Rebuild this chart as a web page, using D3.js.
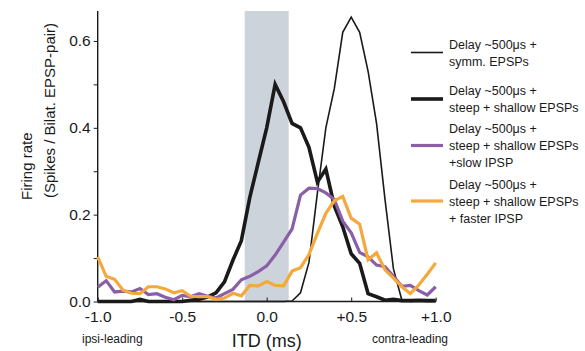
<!DOCTYPE html>
<html>
<head>
<meta charset="utf-8">
<script src="https://cdn.jsdelivr.net/npm/d3@7"></script>
<style>
  body { margin: 0; background: #fff; }
  svg { font-family: "Liberation Sans", Arial, sans-serif; }
</style>
</head>
<body>
<div id="chart"></div>
<script>
// ITD sample points, -1.0 .. +1.0 ms in 0.05 steps
const itd = d3.range(41).map(i => +(-1 + i * 0.05).toFixed(2));

const symmEPSP = [0, 0, 0, 0, 0, 0, 0, 0, 0, 0, 0, 0, 0, 0, 0, 0, 0, 0, 0, 0,
  0, 0, 0, 0.001, 0.02, 0.09, 0.25, 0.40, 0.49, 0.62, 0.655, 0.62, 0.53, 0.41, 0.235, 0.075,
  0.003, 0, 0, 0, 0];
const steepShallow = [0, 0, 0, 0, 0, 0.005, 0, 0, 0, 0, 0, 0.003, 0.005, 0.01, 0.02, 0.045,
  0.095, 0.14, 0.24, 0.32, 0.40, 0.50, 0.46, 0.41, 0.40, 0.355, 0.275, 0.305, 0.22, 0.172, 0.11,
  0.088, 0.018, 0.011, 0.003, 0.005, 0.002, 0.002, 0.003, 0.002, 0.002];
const slowIPSP = [0.033, 0.048, 0.022, 0.024, 0.022, 0.03, 0.016, 0.018, 0.01, 0.004, 0.014,
  0.011, 0.018, 0.012, 0.008, 0.018, 0.028, 0.05, 0.058, 0.069, 0.082, 0.107, 0.137, 0.167,
  0.245, 0.261, 0.26, 0.25, 0.235, 0.185, 0.158, 0.113, 0.103, 0.084, 0.08, 0.058, 0.035,
  0.037, 0.025, 0.015, 0.034];
const fasterIPSP = [0.103, 0.058, 0.051, 0.026, 0.019, 0.018, 0.034, 0.034, 0.029, 0.02, 0.025,
  0.012, 0.011, 0.011, 0.005, 0.008, 0.019, 0.013, 0.037, 0.036, 0.046, 0.037, 0.036, 0.07,
  0.078, 0.108, 0.157, 0.203, 0.232, 0.242, 0.192, 0.178, 0.096, 0.112, 0.073, 0.054, 0.034,
  0.018, 0.038, 0.063, 0.089];

const xTicks = [-1, -0.5, 0, 0.5, 1];
const xTickLabels = ['-1.0', '-0.5', '0.0', '+0.5', '+1.0'];
const yTicks = [0, 0.1, 0.2, 0.3, 0.4, 0.5, 0.6];
const yTickLabels = ['0.0', '', '0.2', '', '0.4', '', '0.6'];
const shadeRange = [-0.13, 0.13];

const series = [
  { name: ['Delay ~500\u03bcs +', 'symm. EPSPs'], values: symmEPSP, color: '#1a1a1a', width: 1.6, ly: 52.5 },
  { name: ['Delay ~500\u03bcs +', 'steep + shallow EPSPs'], values: steepShallow, color: '#1a1a1a', width: 3.6, ly: 99 },
  { name: ['Delay ~500\u03bcs +', 'steep + shallow EPSPs', '+slow IPSP'], values: slowIPSP, color: '#8a5fa8', width: 3.2, ly: 145.5 },
  { name: ['Delay ~500\u03bcs +', 'steep + shallow EPSPs', '+ faster IPSP'], values: fasterIPSP, color: '#f5a83c', width: 3.2, ly: 201 }
];

const width = 585, height = 351;

const svg = d3.select('#chart').append('svg')
  .attr('width', width)
  .attr('height', height);

const x = d3.scaleLinear().domain([-1, 1]).range([97.7, 435.7]);
const y = d3.scaleLinear().domain([0, 0.669]).range([301.5, 11]);

// shaded window
svg.append('rect')
  .attr('x', x(shadeRange[0]))
  .attr('y', y(0.669))
  .attr('width', x(shadeRange[1]) - x(shadeRange[0]))
  .attr('height', y(0) - y(0.669))
  .attr('fill', '#cdd3da');

// y axis
const yAxis = svg.append('g')
  .attr('transform', `translate(${x(-1)},0)`)
  .call(d3.axisLeft(y).tickValues(yTicks).tickFormat((d, i) => yTickLabels[i]).tickSize(4).tickPadding(3));
yAxis.select('.domain').attr('d', `M0,${y(0)}V${y(0.669)}`).attr('stroke', '#1a1a1a').attr('stroke-width', 1.4);
yAxis.selectAll('.tick line').attr('stroke', '#1a1a1a');
yAxis.selectAll('.tick text').attr('font-size', 15.5).attr('fill', '#1a1a1a').attr('font-family', null);

// x axis
const xAxis = svg.append('g')
  .attr('transform', `translate(0,${y(0)})`)
  .call(d3.axisBottom(x).tickValues(xTicks).tickFormat((d, i) => xTickLabels[i]).tickSize(-4).tickPadding(9));
xAxis.select('.domain').attr('d', `M${x(-1)},0H${x(1)}`).attr('stroke', '#1a1a1a').attr('stroke-width', 1.4);
xAxis.selectAll('.tick line').attr('stroke', '#1a1a1a');
xAxis.selectAll('.tick text').attr('font-size', 15.5).attr('fill', '#1a1a1a').attr('font-family', null);

// curves
const line = d3.line()
  .x((d, i) => x(itd[i]))
  .y(d => y(d));

svg.selectAll('.curve')
  .data(series)
  .enter().append('path')
  .attr('class', 'curve')
  .attr('fill', 'none')
  .attr('stroke', d => d.color)
  .attr('stroke-width', d => d.width)
  .attr('stroke-linejoin', 'miter')
  .attr('d', d => line(d.values));

// legend
const legend = svg.selectAll('.legend')
  .data(series)
  .enter().append('g')
  .attr('class', 'legend');

legend.append('line')
  .attr('x1', 411).attr('x2', 443)
  .attr('y1', d => d.ly).attr('y2', d => d.ly)
  .attr('stroke', d => d.color)
  .attr('stroke-width', d => d.width);

legend.append('text')
  .attr('x', 449)
  .attr('font-size', 12.5)
  .attr('fill', '#1a1a1a')
  .selectAll('tspan')
  .data(d => d.name.map((t, i) => ({ t, y: d.ly + 4.5 + (i - (d.name.length - 1) / 2) * 17 })))
  .enter().append('tspan')
  .attr('x', 449)
  .attr('y', d => d.y)
  .text(d => d.t);

// axis titles
svg.append('text')
  .attr('x', x(0))
  .attr('y', 347)
  .attr('text-anchor', 'middle')
  .attr('font-size', 18)
  .attr('fill', '#1a1a1a')
  .text('ITD (ms)');

svg.append('text')
  .attr('x', 82)
  .attr('y', 343)
  .attr('font-size', 12)
  .attr('fill', '#1a1a1a')
  .text('ipsi-leading');

svg.append('text')
  .attr('x', 448)
  .attr('y', 343)
  .attr('text-anchor', 'end')
  .attr('font-size', 12)
  .attr('fill', '#1a1a1a')
  .text('contra-leading');

svg.append('text')
  .attr('transform', 'translate(32,200) rotate(-90)')
  .attr('font-size', 15)
  .attr('fill', '#1a1a1a')
  .text('Firing rate');

svg.append('text')
  .attr('transform', 'translate(55,198) rotate(-90)')
  .attr('font-size', 15)
  .attr('fill', '#1a1a1a')
  .text('(Spikes / Bilat. EPSP-pair)');
</script>
</body>
</html>
